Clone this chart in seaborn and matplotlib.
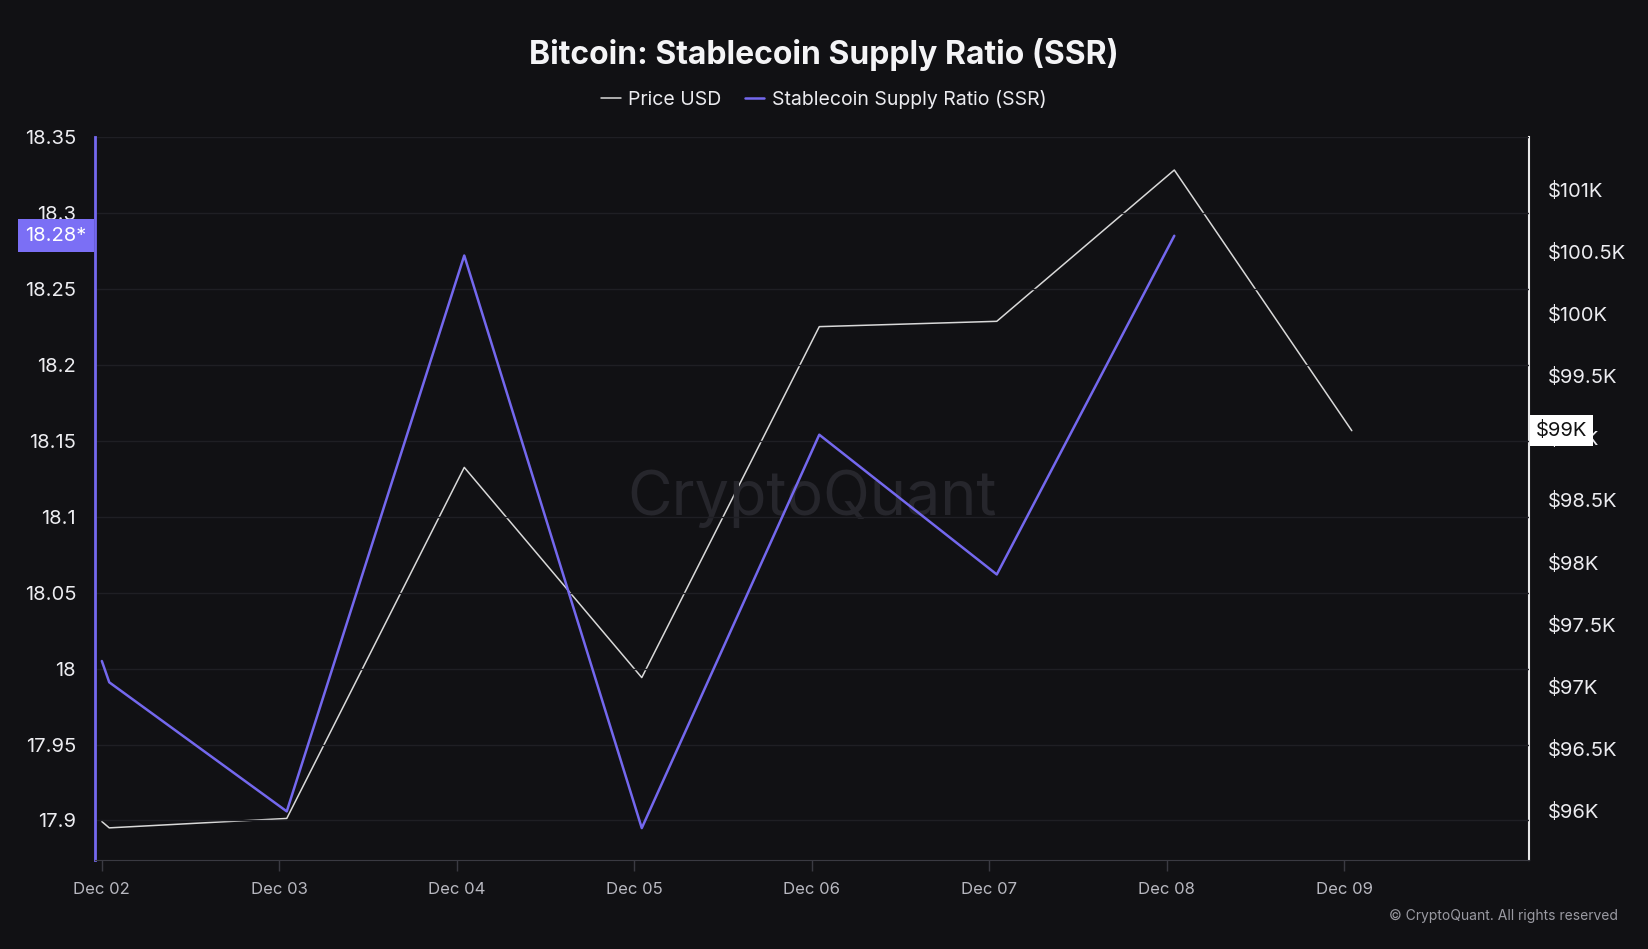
import pandas as pd
import numpy as np
import seaborn as sns
import matplotlib.pyplot as plt
import matplotlib.dates as mdates
from matplotlib.ticker import FixedLocator, FuncFormatter

# Data
dates = ["2024-12-02 00:00", "2024-12-02 01:00", "2024-12-03 01:00", "2024-12-04 01:00",
         "2024-12-05 01:00", "2024-12-06 01:00", "2024-12-07 01:00", "2024-12-08 01:00",
         "2024-12-09 01:00"]
ssr = [18.005, 17.991, 17.906, 18.272, 17.895, 18.154, 18.062, 18.285, np.nan]
price = [95907, 95856, 95932, 98763, 97068, 99898, 99941, 101161, 99059]
ssr_ticks = [17.9, 17.95, 18.0, 18.05, 18.1, 18.15, 18.2, 18.25, 18.3, 18.35]
price_ticks = [96000, 96500, 97000, 97500, 98000, 98500, 99000, 99500, 100000, 100500, 101000]
day_ticks = pd.date_range("2024-12-02", "2024-12-09", freq="D")

df = pd.DataFrame({"date": pd.to_datetime(dates), "ssr": ssr, "price": price})

BG = "#111114"
PURPLE = "#7468ee"
GRID = "#1f1f24"

sns.set_style("dark")
plt.rcParams["font.family"] = ["Inter", "DejaVu Sans"]

fig = plt.figure(figsize=(16.48, 9.49), dpi=100, facecolor=BG)
ax = fig.add_axes([0.0576, 0.0938, 0.8702, 0.7618])
ax.set_facecolor(BG)
ax2 = ax.twinx()

sns.lineplot(data=df, x="date", y="price", ax=ax2, color="#d9d9d9", linewidth=1.1)
sns.lineplot(data=df.dropna(), x="date", y="ssr", ax=ax, color=PURPLE, linewidth=1.8)

# put SSR line above the price line
ax.set_zorder(ax2.get_zorder() + 1)
ax.patch.set_visible(False)
ax2.patch.set_facecolor(BG)
ax2.patch.set_visible(True)

start = pd.Timestamp("2024-12-02")
ax.set_xlim(start - pd.Timedelta(days=0.039), start + pd.Timedelta(days=8.04))
ax.set_ylim(17.874, 18.35)
ax2.set_ylim(95597, 101427)

ax.xaxis.set_major_locator(FixedLocator(mdates.date2num(day_ticks)))
ax.xaxis.set_major_formatter(mdates.DateFormatter("%b %d"))
ax.yaxis.set_major_locator(FixedLocator(ssr_ticks))
ax.yaxis.set_major_formatter(FuncFormatter(lambda v, p: f"{v:g}"))
ax2.yaxis.set_major_locator(FixedLocator(price_ticks))
ax2.yaxis.set_major_formatter(FuncFormatter(lambda v, p: f"${v/1000:g}K"))

ax.grid(True, axis="y", color=GRID, linewidth=1)
ax.grid(False, axis="x")
ax2.grid(False)
for a in (ax, ax2):
    a.set_xlabel("")
    a.set_ylabel("")

ax.tick_params(axis="x", colors="#3a3a42", labelcolor="#b8b8c0", labelsize=12,
               length=8, width=1, pad=8, bottom=True)
ax.tick_params(axis="y", left=False, labelcolor="#ececf0", labelsize=14.5, pad=10)
ax2.tick_params(axis="y", right=False, labelcolor="#ececf0", labelsize=14.5, pad=10)

for s in ("top", "right"):
    ax.spines[s].set_visible(False)
ax.spines["left"].set_color(PURPLE)
ax.spines["left"].set_linewidth(2)
ax.spines["bottom"].set_color("#3a3a42")
for s in ("top", "left", "bottom"):
    ax2.spines[s].set_visible(False)
ax2.spines["right"].set_color("#e8e8e8")
ax2.spines["right"].set_linewidth(1.5)

# last value labels
ax.annotate("18.28*", xy=(0, ssr[7]), xycoords=ax.get_yaxis_transform(),
            xytext=(-6, 0), textcoords="offset points", ha="right", va="center",
            fontsize=14.5, color="white", zorder=10, annotation_clip=False,
            bbox=dict(boxstyle="square,pad=0.38", facecolor="#7b6ff5", edgecolor="none"))
ax2.annotate("$99K", xy=(1.0, price[8]), xycoords=ax2.get_yaxis_transform(),
             xytext=(5, 0), textcoords="offset points", ha="left", va="center",
             fontsize=14.5, color="#111111", zorder=10, annotation_clip=False,
             bbox=dict(boxstyle="square,pad=0.3", facecolor="white", edgecolor="none"))

# watermark
ax.text(0.5, 0.5, "CryptoQuant", transform=ax.transAxes, ha="center", va="center",
        fontsize=44, color="#26262c", zorder=0)

fig.text(0.5, 0.943, "Bitcoin: Stablecoin Supply Ratio (SSR)", ha="center", va="center",
         fontsize=23, fontweight="bold", color="#f4f4f6")

handles = [plt.Line2D([], [], color="#d9d9d9", linewidth=1.1),
           plt.Line2D([], [], color=PURPLE, linewidth=1.8)]
fig.legend(handles, ["Price USD", "Stablecoin Supply Ratio (SSR)"], loc="center",
           bbox_to_anchor=(0.5, 0.895), ncol=2, frameon=False, fontsize=14,
           labelcolor="#ececf0", handlelength=1.0, handletextpad=0.4, columnspacing=1.2)

fig.text(0.982, 0.035, "© CryptoQuant. All rights reserved", ha="right", va="center",
         fontsize=10, color="#9a9aa2")

plt.savefig("out.png", dpi=100, facecolor=BG)
plt.close()
